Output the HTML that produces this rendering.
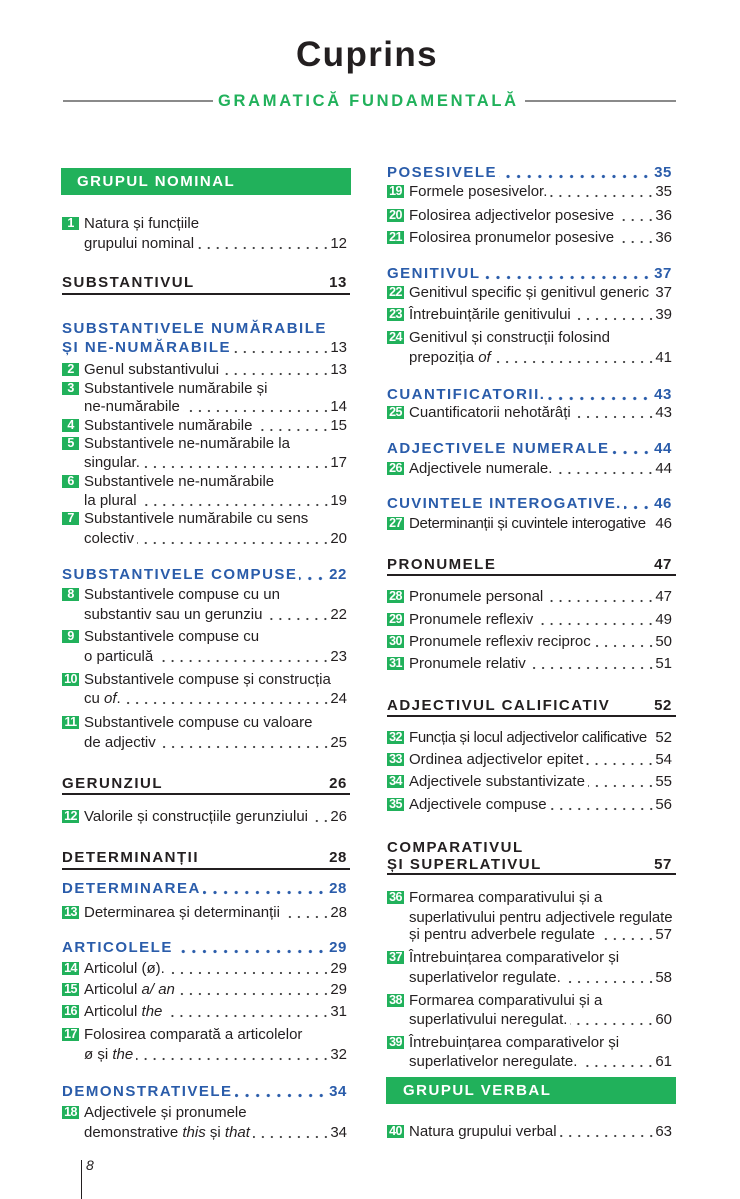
<!DOCTYPE html>
<html><head><meta charset="utf-8">
<style>
html,body{margin:0;padding:0}
body{width:740px;height:1199px;position:relative;background:#fff;font-family:"Liberation Sans",sans-serif;color:#231f20;overflow:hidden}
.r{position:absolute;height:20px;line-height:20px;font-size:15px;display:flex;white-space:nowrap}
.L{left:84px;width:263px}
.R{left:409px;width:263px}
.HL{left:62px;width:285px}
.HR{left:387px;width:285px}
.t{flex:0 0 auto}
.d{flex:1 1 auto;min-width:6px;margin-left:3px;background:radial-gradient(circle,#3a3a3a 0,#3a3a3a 0.8px,rgba(255,255,255,0) 1.3px) right 0 top 12px/9px 4px repeat-x}
.db{flex:1 1 auto;min-width:6px;margin-left:2px;margin-right:3px;background:radial-gradient(circle,#2a5caa 0,#2a5caa 1.3px,rgba(255,255,255,0) 1.9px) right 0 top 11px/10.6px 5px repeat-x}
.sp{flex:1 1 auto;min-width:3px}
.h{font-weight:bold;letter-spacing:1.5px}
.bl{color:#2a5caa}
.hn{font-weight:bold;letter-spacing:0.6px}
.b{position:absolute;width:17px;height:13px;background:#21b15b;color:#fff;font-weight:bold;font-size:12.5px;line-height:13px;text-align:center;letter-spacing:-0.6px;overflow:hidden}
.rule{position:absolute;height:2px;background:#231f20}
.bar{position:absolute;background:#21b15b;color:#fff;font-weight:bold;font-size:15px;letter-spacing:1.5px;height:27px;line-height:27px}
i{font-style:italic}
</style></head><body>

<div style="position:absolute;left:296px;top:37px;font-size:35px;line-height:35px;font-weight:bold;letter-spacing:1.4px;color:#231f20">Cuprins</div>
<div style="position:absolute;left:63px;top:100px;width:150px;height:2px;background:#8a8a8a"></div>
<div style="position:absolute;left:525px;top:100px;width:151px;height:2px;background:#8a8a8a"></div>
<div style="position:absolute;left:218px;top:91px;font-size:16.5px;line-height:20px;font-weight:bold;letter-spacing:2.7px;color:#21b15b">GRAMATICĂ FUNDAMENTALĂ</div>

<!-- LEFT COLUMN -->
<div class="bar" style="left:61px;top:168px;width:274px;padding-left:16px">GRUPUL NOMINAL</div>

<div class="b" style="left:62px;top:217px">1</div>
<div class="r L" style="top:214px"><span class="t">Natura și funcțiile</span></div>
<div class="r L" style="top:234px"><span class="t">grupului nominal</span><span class="d"></span><span class="t">12</span></div>

<div class="r HL" style="top:273px"><span class="t h">SUBSTANTIVUL</span><span class="sp"></span><span class="t hn">13</span></div>
<div class="rule" style="left:62px;top:293px;width:288px"></div>

<div class="r HL" style="top:319px"><span class="t h bl">SUBSTANTIVELE NUMĂRABILE</span></div>
<div class="r HL" style="top:338px"><span class="t h bl">ȘI NE-NUMĂRABILE</span><span class="d"></span><span class="t">13</span></div>

<div class="b" style="left:62px;top:363px">2</div>
<div class="r L" style="top:360px"><span class="t">Genul substantivului</span><span class="d"></span><span class="t">13</span></div>
<div class="b" style="left:62px;top:382px">3</div>
<div class="r L" style="top:379px"><span class="t">Substantivele numărabile și</span></div>
<div class="r L" style="top:397px"><span class="t">ne-numărabile</span><span class="d"></span><span class="t">14</span></div>
<div class="b" style="left:62px;top:419px">4</div>
<div class="r L" style="top:416px"><span class="t">Substantivele numărabile</span><span class="d"></span><span class="t">15</span></div>
<div class="b" style="left:62px;top:437px">5</div>
<div class="r L" style="top:434px"><span class="t">Substantivele ne-numărabile la</span></div>
<div class="r L" style="top:453px"><span class="t">singular.</span><span class="d"></span><span class="t">17</span></div>
<div class="b" style="left:62px;top:475px">6</div>
<div class="r L" style="top:472px"><span class="t">Substantivele ne-numărabile</span></div>
<div class="r L" style="top:491px"><span class="t">la plural</span><span class="d"></span><span class="t">19</span></div>
<div class="b" style="left:62px;top:512px">7</div>
<div class="r L" style="top:509px"><span class="t">Substantivele numărabile cu sens</span></div>
<div class="r L" style="top:529px"><span class="t">colectiv</span><span class="d"></span><span class="t">20</span></div>

<div class="r HL" style="top:565px"><span class="t h bl">SUBSTANTIVELE COMPUSE</span><span class="db"></span><span class="t hn bl">22</span></div>
<div class="b" style="left:62px;top:588px">8</div>
<div class="r L" style="top:585px"><span class="t">Substantivele compuse cu un</span></div>
<div class="r L" style="top:605px"><span class="t">substantiv sau un gerunziu</span><span class="d"></span><span class="t">22</span></div>
<div class="b" style="left:62px;top:630px">9</div>
<div class="r L" style="top:627px"><span class="t">Substantivele compuse cu</span></div>
<div class="r L" style="top:647px"><span class="t">o particulă</span><span class="d"></span><span class="t">23</span></div>
<div class="b" style="left:62px;top:673px">10</div>
<div class="r L" style="top:670px"><span class="t">Substantivele compuse și construcția</span></div>
<div class="r L" style="top:689px"><span class="t">cu <i>of</i>.</span><span class="d"></span><span class="t">24</span></div>
<div class="b" style="left:62px;top:716px">11</div>
<div class="r L" style="top:713px"><span class="t">Substantivele compuse cu valoare</span></div>
<div class="r L" style="top:733px"><span class="t">de adjectiv</span><span class="d"></span><span class="t">25</span></div>

<div class="r HL" style="top:774px"><span class="t h">GERUNZIUL</span><span class="sp"></span><span class="t hn">26</span></div>
<div class="rule" style="left:62px;top:793px;width:288px"></div>

<div class="b" style="left:62px;top:810px">12</div>
<div class="r L" style="top:807px"><span class="t">Valorile și construcțiile gerunziului</span><span class="d"></span><span class="t">26</span></div>

<div class="r HL" style="top:848px"><span class="t h">DETERMINANȚII</span><span class="sp"></span><span class="t hn">28</span></div>
<div class="rule" style="left:62px;top:868px;width:288px"></div>

<div class="r HL" style="top:879px"><span class="t h bl">DETERMINAREA</span><span class="db"></span><span class="t hn bl">28</span></div>
<div class="b" style="left:62px;top:906px">13</div>
<div class="r L" style="top:903px"><span class="t">Determinarea și determinanții</span><span class="d"></span><span class="t">28</span></div>

<div class="r HL" style="top:938px"><span class="t h bl">ARTICOLELE</span><span class="db"></span><span class="t hn bl">29</span></div>
<div class="b" style="left:62px;top:962px">14</div>
<div class="r L" style="top:959px"><span class="t">Articolul (ø).</span><span class="d"></span><span class="t">29</span></div>
<div class="b" style="left:62px;top:983px">15</div>
<div class="r L" style="top:980px"><span class="t">Articolul <i>a/ an</i></span><span class="d"></span><span class="t">29</span></div>
<div class="b" style="left:62px;top:1005px">16</div>
<div class="r L" style="top:1002px"><span class="t">Articolul <i>the</i></span><span class="d"></span><span class="t">31</span></div>
<div class="b" style="left:62px;top:1028px">17</div>
<div class="r L" style="top:1025px"><span class="t">Folosirea comparată a articolelor</span></div>
<div class="r L" style="top:1045px"><span class="t">ø și <i>the</i></span><span class="d"></span><span class="t">32</span></div>

<div class="r HL" style="top:1082px"><span class="t h bl">DEMONSTRATIVELE</span><span class="db"></span><span class="t hn bl">34</span></div>
<div class="b" style="left:62px;top:1106px">18</div>
<div class="r L" style="top:1103px"><span class="t">Adjectivele și pronumele</span></div>
<div class="r L" style="top:1123px"><span class="t">demonstrative <i>this</i> și <i>that</i></span><span class="d"></span><span class="t">34</span></div>

<div style="position:absolute;left:81px;top:1160px;width:1px;height:39px;background:#231f20"></div>
<div style="position:absolute;left:86px;top:1157px;font-size:14px;line-height:16px;font-style:italic">8</div>

<!-- RIGHT COLUMN -->
<div class="r HR" style="top:163px"><span class="t h bl">POSESIVELE</span><span class="db"></span><span class="t hn bl">35</span></div>
<div class="b" style="left:387px;top:185px">19</div>
<div class="r R" style="top:182px"><span class="t">Formele posesivelor.</span><span class="d"></span><span class="t">35</span></div>
<div class="b" style="left:387px;top:209px">20</div>
<div class="r R" style="top:206px"><span class="t">Folosirea adjectivelor posesive</span><span class="d"></span><span class="t">36</span></div>
<div class="b" style="left:387px;top:231px">21</div>
<div class="r R" style="top:228px"><span class="t">Folosirea pronumelor posesive</span><span class="d"></span><span class="t">36</span></div>

<div class="r HR" style="top:264px"><span class="t h bl">GENITIVUL</span><span class="db"></span><span class="t hn bl">37</span></div>
<div class="b" style="left:387px;top:286px">22</div>
<div class="r R" style="top:283px"><span class="t">Genitivul specific și genitivul generic</span><span class="sp"></span><span class="t">37</span></div>
<div class="b" style="left:387px;top:308px">23</div>
<div class="r R" style="top:305px"><span class="t">Întrebuințările genitivului</span><span class="d"></span><span class="t">39</span></div>
<div class="b" style="left:387px;top:331px">24</div>
<div class="r R" style="top:328px"><span class="t">Genitivul și construcții folosind</span></div>
<div class="r R" style="top:348px"><span class="t">prepoziția <i>of</i></span><span class="d"></span><span class="t">41</span></div>

<div class="r HR" style="top:385px"><span class="t h bl">CUANTIFICATORII.</span><span class="db"></span><span class="t hn bl">43</span></div>
<div class="b" style="left:387px;top:406px">25</div>
<div class="r R" style="top:403px"><span class="t">Cuantificatorii nehotărâți</span><span class="d"></span><span class="t">43</span></div>

<div class="r HR" style="top:439px"><span class="t h bl">ADJECTIVELE NUMERALE</span><span class="db"></span><span class="t hn bl">44</span></div>
<div class="b" style="left:387px;top:462px">26</div>
<div class="r R" style="top:459px"><span class="t">Adjectivele numerale.</span><span class="d"></span><span class="t">44</span></div>

<div class="r HR" style="top:494px"><span class="t h bl" style="letter-spacing:1.3px">CUVINTELE INTEROGATIVE.</span><span class="db"></span><span class="t hn bl">46</span></div>
<div class="b" style="left:387px;top:517px">27</div>
<div class="r R" style="top:514px"><span class="t" style="letter-spacing:-0.3px">Determinanții și cuvintele interogative</span><span class="sp"></span><span class="t">46</span></div>

<div class="r HR" style="top:555px"><span class="t h">PRONUMELE</span><span class="sp"></span><span class="t hn">47</span></div>
<div class="rule" style="left:387px;top:574px;width:289px"></div>

<div class="b" style="left:387px;top:590px">28</div>
<div class="r R" style="top:587px"><span class="t">Pronumele personal</span><span class="d"></span><span class="t">47</span></div>
<div class="b" style="left:387px;top:613px">29</div>
<div class="r R" style="top:610px"><span class="t">Pronumele reflexiv</span><span class="d"></span><span class="t">49</span></div>
<div class="b" style="left:387px;top:635px">30</div>
<div class="r R" style="top:632px"><span class="t">Pronumele reflexiv reciproc</span><span class="d"></span><span class="t">50</span></div>
<div class="b" style="left:387px;top:657px">31</div>
<div class="r R" style="top:654px"><span class="t">Pronumele relativ</span><span class="d"></span><span class="t">51</span></div>

<div class="r HR" style="top:696px"><span class="t h">ADJECTIVUL CALIFICATIV</span><span class="sp"></span><span class="t hn">52</span></div>
<div class="rule" style="left:387px;top:715px;width:289px"></div>

<div class="b" style="left:387px;top:731px">32</div>
<div class="r R" style="top:728px"><span class="t" style="letter-spacing:-0.35px">Funcția și locul adjectivelor calificative</span><span class="sp"></span><span class="t">52</span></div>
<div class="b" style="left:387px;top:753px">33</div>
<div class="r R" style="top:750px"><span class="t">Ordinea adjectivelor epitet</span><span class="d"></span><span class="t">54</span></div>
<div class="b" style="left:387px;top:775px">34</div>
<div class="r R" style="top:772px"><span class="t">Adjectivele substantivizate</span><span class="d"></span><span class="t">55</span></div>
<div class="b" style="left:387px;top:798px">35</div>
<div class="r R" style="top:795px"><span class="t">Adjectivele compuse</span><span class="d"></span><span class="t">56</span></div>

<div class="r HR" style="top:838px"><span class="t h">COMPARATIVUL</span></div>
<div class="r HR" style="top:855px"><span class="t h">ȘI SUPERLATIVUL</span><span class="sp"></span><span class="t hn">57</span></div>
<div class="rule" style="left:387px;top:873px;width:289px"></div>

<div class="b" style="left:387px;top:891px">36</div>
<div class="r R" style="top:888px"><span class="t">Formarea comparativului și a</span></div>
<div class="r R" style="top:908px;width:270px"><span class="t" style="letter-spacing:-0.1px">superlativului pentru adjectivele regulate</span></div>
<div class="r R" style="top:925px"><span class="t">și pentru adverbele regulate</span><span class="d"></span><span class="t">57</span></div>
<div class="b" style="left:387px;top:951px">37</div>
<div class="r R" style="top:948px"><span class="t">Întrebuințarea comparativelor și</span></div>
<div class="r R" style="top:968px"><span class="t">superlativelor regulate.</span><span class="d"></span><span class="t">58</span></div>
<div class="b" style="left:387px;top:994px">38</div>
<div class="r R" style="top:991px"><span class="t">Formarea comparativului și a</span></div>
<div class="r R" style="top:1010px"><span class="t">superlativului neregulat.</span><span class="d"></span><span class="t">60</span></div>
<div class="b" style="left:387px;top:1036px">39</div>
<div class="r R" style="top:1033px"><span class="t">Întrebuințarea comparativelor și</span></div>
<div class="r R" style="top:1052px"><span class="t">superlativelor neregulate.</span><span class="d"></span><span class="t">61</span></div>

<div class="bar" style="left:386px;top:1077px;width:273px;padding-left:17px">GRUPUL VERBAL</div>

<div class="b" style="left:387px;top:1125px">40</div>
<div class="r R" style="top:1122px"><span class="t">Natura grupului verbal</span><span class="d"></span><span class="t">63</span></div>

</body></html>
